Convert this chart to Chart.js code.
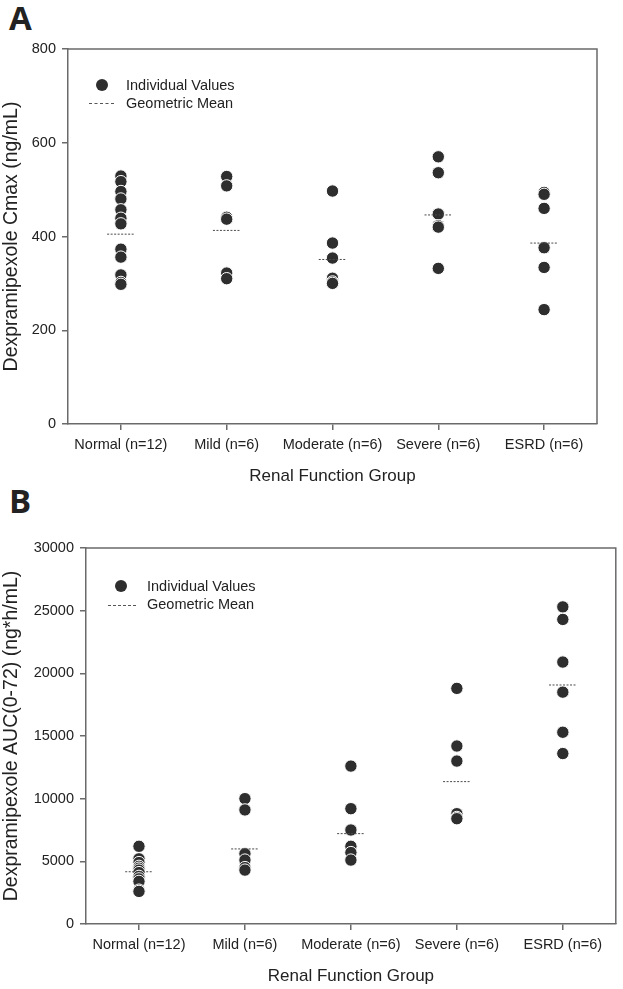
<!DOCTYPE html>
<html>
<head>
<meta charset="utf-8">
<script src="https://cdn.jsdelivr.net/npm/chart.js@4.4.1/dist/chart.umd.min.js"></script>
<style>
  html, body { margin: 0; padding: 0; background: #fff; }
  body { width: 623px; height: 989px; position: relative; overflow: hidden; font-family: "Liberation Sans", Arial, sans-serif; }
  canvas { position: absolute; left: 0; }
  #cA { top: 0; }
  #cB { top: 494px; }
  .letter { position: absolute; font-family: "Open Sans", sans-serif; font-weight: 700; font-size: 33px; line-height: 1; color: #222; }
  .leg { position: absolute; font-size: 14.5px; color: #222; line-height: 1; white-space: nowrap; }
  .dot { position: absolute; width: 12px; height: 12px; border-radius: 50%; background: #2e2e2e; }
  .dash { position: absolute; height: 0; border-top: 1px dashed #555; }
</style>
</head>
<body>
<div class="letter" style="left:9px; top:1px;">A</div>
<div class="letter" style="left:9px; top:484px;">B</div>

<canvas id="cA" width="623" height="494"></canvas>
<canvas id="cB" width="623" height="495"></canvas>

<div class="dot" style="left:96px; top:79px;"></div>
<div class="leg" style="left:126px; top:78px;">Individual Values</div>
<div class="dash" style="left:89px; top:103px; width:25px;"></div>
<div class="leg" style="left:126px; top:96px;">Geometric Mean</div>

<div class="dot" style="left:115px; top:580px;"></div>
<div class="leg" style="left:147px; top:579px;">Individual Values</div>
<div class="dash" style="left:108px; top:605px; width:28px;"></div>
<div class="leg" style="left:147px; top:597px;">Geometric Mean</div>

<script>
// ---------- DATA ----------
const categories = ['Normal (n=12)', 'Mild (n=6)', 'Moderate (n=6)', 'Severe (n=6)', 'ESRD (n=6)'];

// Panel A: Cmax (ng/mL)
const cmaxNormal   = [529, 517, 496, 480, 457, 439, 427, 373, 356, 318, 302, 298];
const cmaxMild     = [528, 508, 441, 437, 322, 310];
const cmaxModerate = [497, 386, 354, 311, 303, 300];
const cmaxSevere   = [570, 536, 448, 423, 420, 332];
const cmaxESRD     = [494, 490, 460, 376, 334, 244];
const cmaxGeoMean  = [405, 413, 351, 446, 386];
const cmaxTicks    = [0, 200, 400, 600, 800];

// Panel B: AUC(0-72) (ng*h/mL)
const aucNormal   = [6200, 5200, 4900, 4600, 4450, 4300, 4100, 3800, 3600, 3400, 2700, 2600];
const aucMild     = [10000, 9100, 5600, 5100, 4500, 4300];
const aucModerate = [12600, 9200, 7500, 6200, 5700, 5100];
const aucSevere   = [18800, 14200, 13000, 8800, 8500, 8400];
const aucESRD     = [25300, 24300, 20900, 18500, 15300, 13600];
const aucGeoMean  = [4170, 5990, 7210, 11360, 19070];
const aucTicks    = [0, 5000, 10000, 15000, 20000, 25000, 30000];

// ---------- BUILD ----------
const TXT = '#222';
const AX = '#6a6a6a';
const FONT = '"Liberation Sans", Arial, sans-serif';

function pointsFrom(groups) {
  const pts = [];
  groups.forEach((arr, i) => arr.forEach(v => pts.push({x: i, y: v})));
  return pts;
}
function meanSegments(means, half) {
  const pts = [];
  means.forEach((m, i) => {
    pts.push({x: i - half, y: m});
    pts.push({x: i + half, y: m});
    pts.push({x: i + 0.5, y: null});
  });
  return pts;
}

const frame = {
  id: 'frame',
  beforeDatasetsDraw(chart) {
    const {ctx, chartArea: a} = chart;
    ctx.save();
    ctx.strokeStyle = AX;
    ctx.lineWidth = 1.5;
    ctx.beginPath();
    ctx.moveTo(a.left, a.top);
    ctx.lineTo(a.right, a.top);
    ctx.lineTo(a.right, a.bottom);
    ctx.stroke();
    ctx.restore();
  }
};

function makeChart(id, groups, means, ticks, yTitle, cfg) {
  const ymax = ticks[ticks.length - 1];
  return new Chart(document.getElementById(id), {
    type: 'scatter',
    data: {
      datasets: [
        {
          type: 'line',
          data: meanSegments(means, 0.13),
          borderColor: '#4a4a4a',
          borderWidth: 1,
          borderDash: [2, 1.5],
          pointRadius: 0,
          spanGaps: false,
          fill: false
        },
        {
          data: pointsFrom(groups),
          backgroundColor: '#2e2e2e',
          borderColor: '#ffffff',
          borderWidth: 1,
          pointRadius: 6.2,
          pointHoverRadius: 6.2
        }
      ]
    },
    options: {
      responsive: false,
      animation: false,
      devicePixelRatio: 1,
      layout: { padding: { left: 0, top: cfg.top, right: cfg.right, bottom: 0 } },
      plugins: { legend: { display: false }, tooltip: { enabled: false } },
      scales: {
        x: {
          type: 'linear',
          min: -0.5,
          max: categories.length - 0.5,
          afterBuildTicks: s => { s.ticks = categories.map((_, i) => ({value: i})); },
          afterFit: s => { s.height = cfg.xh; },
          ticks: {
            callback: v => categories[v],
            color: TXT,
            font: { family: FONT, size: 14.5 },
            padding: 6,
            maxRotation: 0,
            autoSkip: false
          },
          grid: { drawOnChartArea: false, drawTicks: true, tickLength: 6, color: AX, lineWidth: 1.5 },
          border: { color: AX, width: 1.5 },
          title: {
            display: true,
            text: 'Renal Function Group',
            color: TXT,
            font: { family: FONT, size: 17 },
            padding: { top: 0, bottom: cfg.xtb }
          }
        },
        y: {
          min: 0,
          max: ymax,
          afterBuildTicks: s => { s.ticks = ticks.map(v => ({value: v})); },
          afterFit: s => { s.width = cfg.yw; },
          ticks: {
            callback: v => String(v),
            color: TXT,
            font: { family: FONT, size: 14.5 },
            padding: 6
          },
          grid: { drawOnChartArea: false, drawTicks: true, tickLength: 6, color: AX, lineWidth: 1.5 },
          border: { color: AX, width: 1.5 },
          title: {
            display: true,
            text: yTitle,
            color: TXT,
            font: { family: FONT, size: 19.5 },
            padding: { top: 0, bottom: 0 }
          }
        }
      }
    },
    plugins: [frame]
  });
}

makeChart('cA',
  [cmaxNormal, cmaxMild, cmaxModerate, cmaxSevere, cmaxESRD],
  cmaxGeoMean, cmaxTicks, 'Dexpramipexole Cmax (ng/mL)',
  { top: 49, right: 26, xh: 70, yw: 68, xtb: 7 });

makeChart('cB',
  [aucNormal, aucMild, aucModerate, aucSevere, aucESRD],
  aucGeoMean, aucTicks, 'Dexpramipexole AUC(0-72) (ng*h/mL)',
  { top: 54, right: 1, xh: 65, yw: 86, xtb: 2 });
</script>
</body>
</html>
